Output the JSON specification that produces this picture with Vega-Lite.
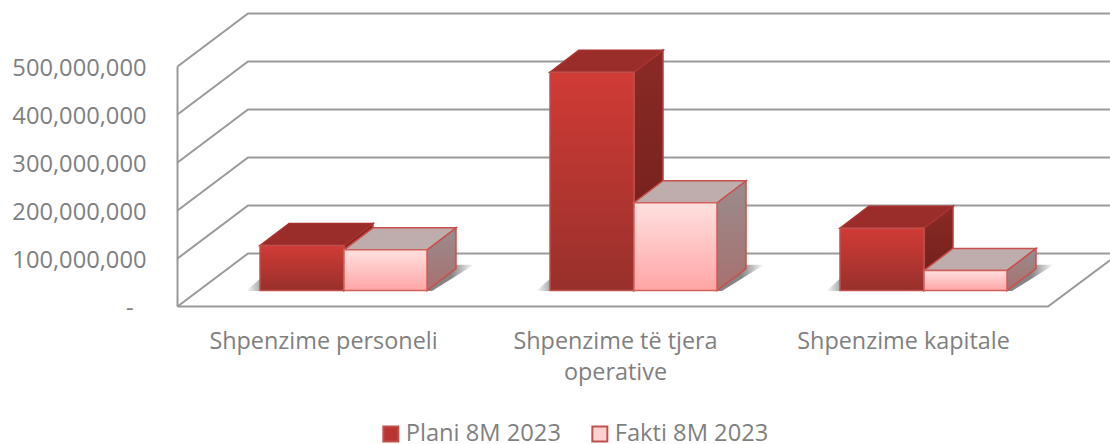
{
"$schema":"https://vega.github.io/schema/vega-lite/v6.json",
"width":932,"height":307,"autosize":"none",
"padding":{"left":178,"top":0,"right":0,"bottom":137},
"background":"white",
"view":{"stroke":null},
"config":{"font":"Open Sans"},
"datasets":{
"bars":[
{"category":"Shpenzime personeli","series":"Plani 8M 2023","value":94000000,"pos":260,"pos2":344},
{"category":"Shpenzime të tjera operative","series":"Plani 8M 2023","value":455000000,"pos":550,"pos2":634},
{"category":"Shpenzime kapitale","series":"Plani 8M 2023","value":130000000,"pos":840,"pos2":924},
{"category":"Shpenzime personeli","series":"Fakti 8M 2023","value":85000000,"pos":344,"pos2":427},
{"category":"Shpenzime të tjera operative","series":"Fakti 8M 2023","value":183000000,"pos":634,"pos2":717},
{"category":"Shpenzime kapitale","series":"Fakti 8M 2023","value":42000000,"pos":924,"pos2":1007}
],
"top":[
{"category":"A","series":"P","level":94000000,"pos":260,"pos2":344},{"category":"A","series":"P","level":139830000,"pos":289,"pos2":373},
{"category":"B","series":"P","level":455000000,"pos":550,"pos2":634},{"category":"B","series":"P","level":500830000,"pos":579,"pos2":663},
{"category":"C","series":"P","level":130000000,"pos":840,"pos2":924},{"category":"C","series":"P","level":175830000,"pos":869,"pos2":953},
{"category":"A","series":"F","level":85000000,"pos":344,"pos2":427},{"category":"A","series":"F","level":130830000,"pos":373,"pos2":456},
{"category":"B","series":"F","level":183000000,"pos":634,"pos2":717},{"category":"B","series":"F","level":228830000,"pos":663,"pos2":746},
{"category":"C","series":"F","level":42000000,"pos":924,"pos2":1007},{"category":"C","series":"F","level":87830000,"pos":953,"pos2":1036}
],
"side":[
{"category":"A","series":"P","pos":344,"level":0,"level2":94000000},{"category":"A","series":"P","pos":373,"level":45830000,"level2":139830000},
{"category":"B","series":"P","pos":634,"level":0,"level2":455000000},{"category":"B","series":"P","pos":663,"level":45830000,"level2":500830000},
{"category":"C","series":"P","pos":924,"level":0,"level2":130000000},{"category":"C","series":"P","pos":953,"level":45830000,"level2":175830000},
{"category":"A","series":"F","pos":427,"level":0,"level2":85000000},{"category":"A","series":"F","pos":456,"level":45830000,"level2":130830000},
{"category":"B","series":"F","pos":717,"level":0,"level2":183000000},{"category":"B","series":"F","pos":746,"level":45830000,"level2":228830000},
{"category":"C","series":"F","pos":1007,"level":0,"level2":42000000},{"category":"C","series":"F","pos":1036,"level":45830000,"level2":87830000}
],
"shadow":[
{"category":"A","level":-1000000,"pos":246,"pos2":432},{"category":"A","level":54000000,"pos":276,"pos2":474},
{"category":"B","level":-1000000,"pos":536,"pos2":722},{"category":"B","level":54000000,"pos":566,"pos2":764},
{"category":"C","level":-1000000,"pos":826,"pos2":1012},{"category":"C","level":54000000,"pos":856,"pos2":1054}
],
"grid":[
{"line":"g0","idx":0,"pos":177.5,"level":0},{"line":"g0","idx":1,"pos":248,"level":110400000},{"line":"g0","idx":2,"pos":1110,"level":110400000},
{"line":"g1","idx":0,"pos":177.5,"level":100000000},{"line":"g1","idx":1,"pos":248,"level":210400000},{"line":"g1","idx":2,"pos":1110,"level":210400000},
{"line":"g2","idx":0,"pos":177.5,"level":200000000},{"line":"g2","idx":1,"pos":248,"level":310400000},{"line":"g2","idx":2,"pos":1110,"level":310400000},
{"line":"g3","idx":0,"pos":177.5,"level":300000000},{"line":"g3","idx":1,"pos":248,"level":410400000},{"line":"g3","idx":2,"pos":1110,"level":410400000},
{"line":"g4","idx":0,"pos":177.5,"level":400000000},{"line":"g4","idx":1,"pos":248,"level":510400000},{"line":"g4","idx":2,"pos":1110,"level":510400000},
{"line":"g5","idx":0,"pos":177.5,"level":500000000},{"line":"g5","idx":1,"pos":248,"level":610400000},{"line":"g5","idx":2,"pos":1110,"level":610400000},
{"line":"wall","idx":0,"pos":177.5,"level":500000000},{"line":"wall","idx":1,"pos":177.5,"level":0},
{"line":"floor","idx":0,"pos":177.5,"level":0},{"line":"floor","idx":1,"pos":1048,"level":0},{"line":"floor","idx":2,"pos":1110,"level":96500000}
]
},
"resolve":{"scale":{"y":"independent"},"axis":{"x":"independent"}},
"layer":[
{"data":{"name":"grid"},
 "mark":{"type":"line","color":"#999999","strokeWidth":2,"clip":false},
 "encoding":{
  "x":{"field":"pos","type":"quantitative","scale":{"domain":[178,1110],"nice":false,"zero":false},
   "axis":{"orient":"bottom","title":null,"grid":false,"domain":false,"ticks":false,"values":[323,615,903],
    "labelExpr":"datum.value==323?'Shpenzime personeli':datum.value==615?['Shpenzime të tjera','operative']:'Shpenzime kapitale'",
    "labelFontSize":23.4,"labelColor":"#7F7F7F","labelFont":"Open Sans","labelPadding":23,"labelLineHeight":31.5,"labelLimit":400,"labelOverlap":false,"labelFlush":false,"labelBound":false}},
  "y":{"field":"level","type":"quantitative","scale":{"domain":[-1040000,638540000],"nice":false,"zero":false},
   "axis":{"orient":"left","title":null,"grid":false,"domain":false,"ticks":false,"values":[0,100000000,200000000,300000000,400000000,500000000],
    "labelExpr":"datum.value==0?'-':format(datum.value,',')",
    "labelFontSize":23.7,"labelColor":"#7F7F7F","labelFont":"Open Sans","labelPadding":{"condition":{"test":"datum.value==0","value":45},"value":32},"labelOffset":2,"labelLimit":400,"labelOverlap":false,"labelBound":false}},
  "detail":{"field":"line"},
  "order":{"field":"idx","type":"quantitative"}
 }},
{"layer":[
 {"data":{"name":"shadow"},
  "mark":{"type":"area","orient":"horizontal","clip":false,"color":{"gradient":"linear","x1":0,"y1":0,"x2":1,"y2":0,"stops":[{"offset":0,"color":"#ffffff"},{"offset":0.08,"color":"#777777"},{"offset":0.9,"color":"#666666"},{"offset":1,"color":"#ffffff"}]},"opacity":0.8},
  "encoding":{"y":{"field":"level","type":"quantitative","axis":null,"scale":{"domain":[-34170000,605420000],"nice":false,"zero":false}},
   "x":{"field":"pos","type":"quantitative","axis":null},"x2":{"field":"pos2"},"detail":{"field":"category"}}},
 {"data":{"name":"bars"},
  "mark":{"type":"rect","clip":false},
  "encoding":{"x":{"field":"pos","type":"quantitative","axis":null},"x2":{"field":"pos2"},
   "y":{"field":"value","type":"quantitative","axis":null},"y2":{"datum":0},
   "color":{"field":"series","type":"nominal","scale":{"domain":["Plani 8M 2023","Fakti 8M 2023"],"range":["#B83530","#FFD0D0"]},
    "legend":{"orient":"none","legendX":201,"legendY":422,"direction":"horizontal","title":null,"symbolType":"square","symbolSize":225,"symbolStrokeColor":"#C0504D","symbolStrokeWidth":2,"labelFontSize":23.7,"labelColor":"#7F7F7F","labelFont":"Open Sans","labelOffset":3,"labelLimit":400,"columnPadding":27}}}},
 {"data":{"name":"side"},"transform":[{"filter":"datum.series=='P'"}],
  "mark":{"type":"area","clip":false,"stroke":"#B8403C","strokeWidth":1.5,"color":{"gradient":"linear","x1":0,"y1":0,"x2":0,"y2":1,"stops":[{"offset":0,"color":"#8A2A26"},{"offset":1,"color":"#6E1E1A"}]}},
  "encoding":{"x":{"field":"pos","type":"quantitative","axis":null},"y":{"field":"level","type":"quantitative","axis":null},"y2":{"field":"level2"},"detail":{"field":"category"}}},
 {"data":{"name":"top"},"transform":[{"filter":"datum.series=='P'"}],
  "mark":{"type":"area","orient":"horizontal","clip":false,"color":"#9A2D2A","stroke":"#A8322F","strokeWidth":1.5},
  "encoding":{"y":{"field":"level","type":"quantitative","axis":null},"x":{"field":"pos","type":"quantitative","axis":null},"x2":{"field":"pos2"},"detail":{"field":"category"}}},
 {"data":{"name":"bars"},"transform":[{"filter":"datum.series=='Plani 8M 2023'"}],
  "mark":{"type":"rect","clip":false,"stroke":"#C0504D","strokeWidth":1.5,"color":{"gradient":"linear","x1":0,"y1":0,"x2":0,"y2":1,"stops":[{"offset":0,"color":"#D13B36"},{"offset":1,"color":"#98302B"}]}},
  "encoding":{"x":{"field":"pos","type":"quantitative","axis":null},"x2":{"field":"pos2"},
   "y":{"field":"value","type":"quantitative","axis":null},"y2":{"datum":0}}},
 {"data":{"name":"side"},"transform":[{"filter":"datum.series=='F'"}],
  "mark":{"type":"area","clip":false,"stroke":"#C8504D","strokeWidth":1.5,"color":{"gradient":"linear","x1":0,"y1":0,"x2":0,"y2":1,"stops":[{"offset":0,"color":"#9A8C8C"},{"offset":1,"color":"#A87070"}]}},
  "encoding":{"x":{"field":"pos","type":"quantitative","axis":null},"y":{"field":"level","type":"quantitative","axis":null},"y2":{"field":"level2"},"detail":{"field":"category"}}},
 {"data":{"name":"top"},"transform":[{"filter":"datum.series=='F'"}],
  "mark":{"type":"area","orient":"horizontal","clip":false,"color":"#BFADAD","stroke":"#C8504D","strokeWidth":1.5},
  "encoding":{"y":{"field":"level","type":"quantitative","axis":null},"x":{"field":"pos","type":"quantitative","axis":null},"x2":{"field":"pos2"},"detail":{"field":"category"}}},
 {"data":{"name":"bars"},"transform":[{"filter":"datum.series=='Fakti 8M 2023'"}],
  "mark":{"type":"rect","clip":false,"stroke":"#D0605C","strokeWidth":1.5,"color":{"gradient":"linear","x1":0,"y1":0,"x2":0,"y2":1,"stops":[{"offset":0,"color":"#FFE0E0"},{"offset":1,"color":"#FFA5A5"}]}},
  "encoding":{"x":{"field":"pos","type":"quantitative","axis":null},"x2":{"field":"pos2"},
   "y":{"field":"value","type":"quantitative","axis":null},"y2":{"datum":0}}}
]}
]
}
